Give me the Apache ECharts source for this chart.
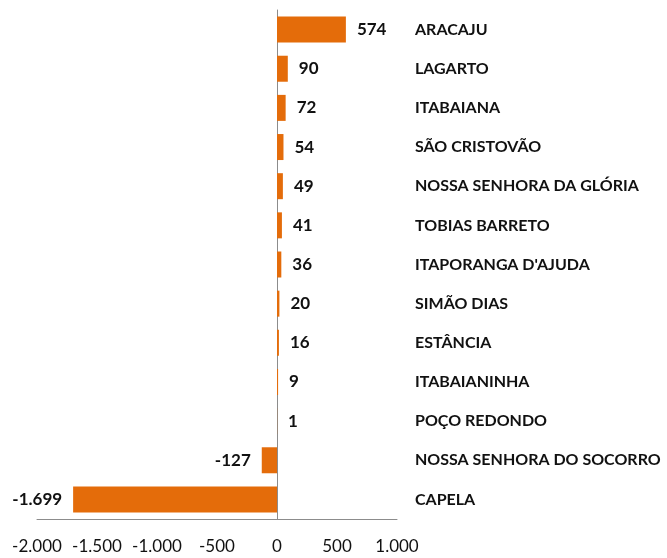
<!DOCTYPE html>
<html>
<head>
<meta charset="utf-8">
<script src="https://cdn.jsdelivr.net/npm/echarts@6/dist/echarts.min.js"></script>
<style>
html,body{margin:0;padding:0;background:#fff;}
#c{width:667px;height:558px;}
</style>
</head>
<body>
<div id="c"></div>
<script>
var categories = ["ARACAJU","LAGARTO","ITABAIANA","SÃO CRISTOVÃO","NOSSA SENHORA DA GLÓRIA","TOBIAS BARRETO","ITAPORANGA D'AJUDA","SIMÃO DIAS","ESTÂNCIA","ITABAIANINHA","POÇO REDONDO","NOSSA SENHORA DO SOCORRO","CAPELA"];
var values = [574, 90, 72, 54, 49, 41, 36, 20, 16, 9, 1, -127, -1699];
var xMin = -2000, xMax = 1000, xStep = 500;

function fmt(v){
  var s = Math.abs(v).toString().replace(/\B(?=(\d{3})+(?!\d))/g, '.');
  return (v < 0 ? '-' : '') + s;
}

var chart = echarts.init(document.getElementById('c'));
chart.setOption({
  animation: false,
  grid: {left: 37, right: 270, top: 10, bottom: 39, containLabel: false},
  xAxis: {
    type: 'value', min: xMin, max: xMax, interval: xStep,
    axisLine: {show: true, lineStyle: {color: '#8c8c8c', width: 1}},
    axisTick: {show: false},
    splitLine: {show: false},
    axisLabel: {formatter: fmt, color: '#111', fontFamily: 'Lato', fontSize: 17, margin: 19}
  },
  yAxis: [{
    type: 'category', data: categories, inverse: true,
    axisLine: {show: true, onZero: true, lineStyle: {color: '#8c8c8c', width: 1}},
    axisTick: {show: false},
    axisLabel: {show: false}
  }, {
    type: 'category', data: categories, inverse: true, position: 'right',
    axisLine: {show: false, onZero: false},
    axisTick: {show: false},
    axisLabel: {show: true, color: '#111', fontFamily: 'Lato', fontWeight: 'bold', fontSize: 16, margin: 18, align: 'left'}
  }],
  series: [{
    type: 'bar', yAxisIndex: 0,
    data: values.map(function(v){
      return {value: v, label: {position: v < 0 ? 'left' : 'right'}};
    }),
    barWidth: 26,
    itemStyle: {color: '#E46C0A'},
    label: {show: true, distance: 11, formatter: function(p){return fmt(p.value);}, color: '#111', fontFamily: 'Lato', fontWeight: 'bold', fontSize: 17}
  }]
});
</script>
</body>
</html>
